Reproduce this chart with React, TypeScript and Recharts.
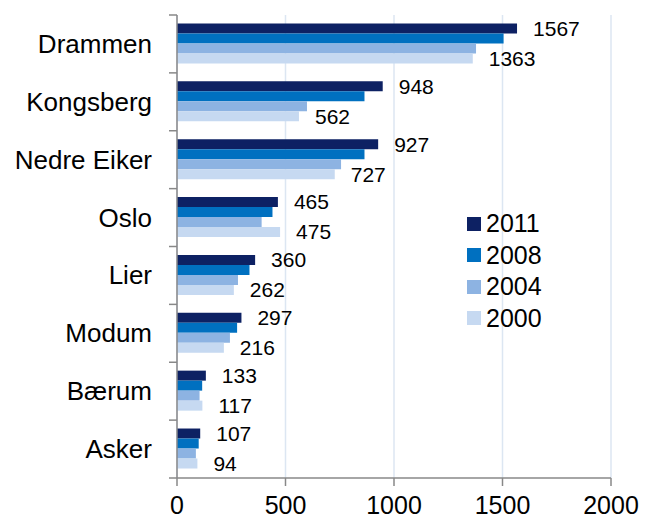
import React from "react";
import {
  BarChart, Bar, XAxis, YAxis, CartesianGrid, Legend, LabelList,
} from "recharts";

const categories = ["Drammen", "Kongsberg", "Nedre Eiker", "Oslo", "Lier", "Modum", "Bærum", "Asker"];
const years = ["2011", "2008", "2004", "2000"];
const v2011 = [1567, 948, 927, 465, 360, 297, 133, 107];
const v2008 = [1505, 864, 864, 440, 334, 277, 116, 100];
const v2004 = [1378, 599, 756, 390, 281, 244, 104, 87];
const v2000 = [1363, 562, 727, 475, 262, 216, 117, 94];
const xTicks = [0, 500, 1000, 1500, 2000];

const data = categories.map((name, i) => ({
  name,
  "2011": v2011[i],
  "2008": v2008[i],
  "2004": v2004[i],
  "2000": v2000[i],
}));

const W = 645;
const H = 519;
const MARGIN = { top: 15, right: 34, bottom: 0, left: 0 };
const X_AXIS_H = 41;
const BAND = (H - MARGIN.top - X_AXIS_H) / categories.length;
const FONT = "'Liberation Sans', Arial, sans-serif";
const AXIS_COLOR = "#888888";

// category label + tick marks on the band boundaries
const CategoryTick = (props: any) => {
  const { x, y, payload, index } = props;
  const axisX = x + 25;
  const top = y - BAND / 2;
  return (
    <g>
      <text x={x} y={y} textAnchor="end" dominantBaseline="central" fontSize={26} fill="#000" fontFamily={FONT}>
        {payload.value}
      </text>
      <line x1={axisX - 8} x2={axisX} y1={top} y2={top} stroke={AXIS_COLOR} strokeWidth={1.5} />
      {index === categories.length - 1 && (
        <line x1={axisX - 8} x2={axisX} y1={y + BAND / 2} y2={y + BAND / 2} stroke={AXIS_COLOR} strokeWidth={1.5} />
      )}
    </g>
  );
};

const LegendBox = (props: any) => {
  const items = [...props.payload].sort(
    (a: any, b: any) => years.indexOf(String(a.value)) - years.indexOf(String(b.value))
  );
  return (
    <div style={{ fontFamily: FONT }}>
      {items.map((p: any) => (
        <div key={p.value} style={{ display: "flex", alignItems: "center", height: 31.5 }}>
          <div style={{ width: 14, height: 14, background: p.color, marginRight: 5 }} />
          <span style={{ fontSize: 25, color: "#000", lineHeight: 1 }}>{p.value}</span>
        </div>
      ))}
    </div>
  );
};

export default function App() {
  return (
    <div style={{ position: "absolute", left: 0, top: 0 }}>
      <BarChart width={W} height={H} data={data} layout="vertical" margin={MARGIN}
        barCategoryGap="14.5%" barGap={0}>
        <CartesianGrid horizontal={false} vertical stroke="#DCE6F2" strokeWidth={1.5} />
        <XAxis type="number" domain={[0, 2000]} ticks={xTicks} height={X_AXIS_H}
          tick={{ fontSize: 25, fill: "#000", fontFamily: FONT }}
          tickSize={8} tickMargin={10}
          axisLine={{ stroke: AXIS_COLOR, strokeWidth: 1.5 }}
          tickLine={{ stroke: AXIS_COLOR, strokeWidth: 1.5 }} />
        <YAxis type="category" dataKey="name" width={177}
          tick={<CategoryTick />} tickLine={false} tickSize={8} tickMargin={17}
          axisLine={{ stroke: AXIS_COLOR, strokeWidth: 1.5 }} interval={0} />
        <Legend layout="vertical" align="center" verticalAlign="middle" content={<LegendBox />}
          wrapperStyle={{ position: "absolute", left: 467, top: 208, width: "auto" }} />
        <Bar dataKey="2011" fill="#0D2163" isAnimationActive={false}>
          <LabelList dataKey="2011" position="right" offset={16} fontSize={21} fill="#000" fontFamily={FONT} />
        </Bar>
        <Bar dataKey="2008" fill="#0070C0" isAnimationActive={false} />
        <Bar dataKey="2004" fill="#8DB3E2" isAnimationActive={false} />
        <Bar dataKey="2000" fill="#C6D9F1" isAnimationActive={false}>
          <LabelList dataKey="2000" position="right" offset={16} fontSize={21} fill="#000" fontFamily={FONT} />
        </Bar>
      </BarChart>
    </div>
  );
}
